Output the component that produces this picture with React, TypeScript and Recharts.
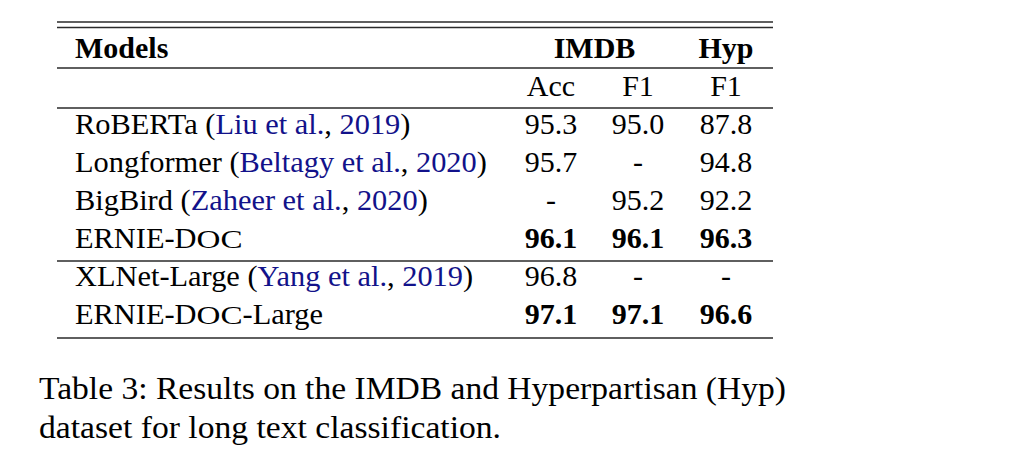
import React from "react";
import { ScatterChart, Scatter, XAxis, YAxis, ReferenceLine, Customized } from "recharts";

// table content
const MODELS = ["RoBERTa", "Longformer", "BigBird", "ERNIE-Doc", "XLNet-Large", "ERNIE-Doc-Large"];
const CITE_AUTHORS = ["Liu et al.", "Beltagy et al.", "Zaheer et al.", null, "Yang et al.", null];
const CITE_YEARS = ["2019", "2020", "2020", null, "2019", null];
const IMDB_ACC = [95.3, 95.7, null, 96.1, 96.8, 97.1];
const IMDB_F1 = [95.0, null, 95.2, 96.1, null, 97.1];
const HYP_F1 = [87.8, 94.8, 92.2, 96.3, null, 96.6];
const BOLD_MODELS = ["ERNIE-Doc", "ERNIE-Doc-Large"];
const TOP_HEADERS = ["Models", "IMDB", "Hyp"];
const SUB_HEADERS = ["Acc", "F1", "F1"];
const CAPTION_LINES = [
  "Table 3: Results on the IMDB and Hyperpartisan (Hyp)",
  "dataset for long text classification.",
];

// layout
const W = 1012;
const H = 456;
const TABLE_LEFT = 57;
const TABLE_RIGHT = 773;
const ROW_PITCH = 38.1;
const FIRST_BASELINE = 57.5;
const COL_X = { model: 75, acc: 551, imdbF1: 638, hyp: 726, imdb: 594.5 };
const RULES_PX = [22, 27.5, 68, 108, 261, 338];
const FONT = "'Liberation Serif', 'Times New Roman', serif";
const FS = 30;
const NAME_FS = 30.4;
const CITE = "#12128a";

const toSlot = (px: number) => (px - FIRST_BASELINE) / ROW_PITCH;
const fmt = (v: number | null) => (v == null ? "-" : v.toFixed(1));

const topHeaderData = TOP_HEADERS.map((t, i) => ({
  x: [COL_X.model, COL_X.imdb, COL_X.hyp][i],
  y: 0,
  text: t,
  left: i === 0,
}));
const subHeaderData = SUB_HEADERS.map((t, i) => ({
  x: [COL_X.acc, COL_X.imdbF1, COL_X.hyp][i],
  y: 1,
  text: t,
}));
const modelData = MODELS.map((m, i) => ({
  x: COL_X.model,
  y: i + 2,
  name: m,
  author: CITE_AUTHORS[i],
  year: CITE_YEARS[i],
}));
const valueData = (vals: (number | null)[], x: number) =>
  vals.map((v, i) => ({ x, y: i + 2, text: fmt(v), bold: BOLD_MODELS.includes(MODELS[i]) }));

const HeaderShape = (props: any) => {
  const { cx, cy, payload } = props;
  return (
    <text x={cx} y={cy} textAnchor={payload.left ? "start" : "middle"} fontFamily={FONT} fontSize={FS} fontWeight="bold" fill="#000">
      {payload.text}
    </text>
  );
};

const CenterShape = (props: any) => {
  const { cx, cy, payload } = props;
  return (
    <text x={cx} y={cy} textAnchor="middle" fontFamily={FONT} fontSize={FS} fontWeight={payload.bold ? "bold" : "normal"} fill="#000">
      {payload.text}
    </text>
  );
};

// "Doc" is set in small caps (wide small-cap glyphs)
const renderName = (name: string) => {
  const idx = name.indexOf("Doc");
  if (idx < 0) return <tspan>{name}</tspan>;
  return (
    <>
      <tspan>{name.slice(0, idx + 1)}</tspan>
      <tspan fontSize={24.5} textLength={46} lengthAdjust="spacingAndGlyphs">OC</tspan>
      <tspan fontSize={NAME_FS}>{name.slice(idx + 3)}</tspan>
    </>
  );
};

const ModelShape = (props: any) => {
  const { cx, cy, payload } = props;
  return (
    <text x={cx} y={cy} textAnchor="start" fontFamily={FONT} fontSize={NAME_FS} fill="#000">
      {renderName(payload.name)}
      {payload.author && (
        <>
          <tspan> (</tspan>
          <tspan fill={CITE}>{payload.author}</tspan>
          <tspan>, </tspan>
          <tspan fill={CITE}>{payload.year}</tspan>
          <tspan>)</tspan>
        </>
      )}
    </text>
  );
};

const Caption = () => (
  <g>
    <text x={39} y={399} fontFamily={FONT} fontSize={32.5} fill="#000" textLength={747} lengthAdjust="spacingAndGlyphs">
      {CAPTION_LINES[0]}
    </text>
    <text x={39} y={438} fontFamily={FONT} fontSize={32.5} fill="#000" textLength={462} lengthAdjust="spacingAndGlyphs">
      {CAPTION_LINES[1]}
    </text>
  </g>
);

export default function App() {
  return (
    <div style={{ position: "absolute", left: 0, top: 0, width: W, height: H, background: "#fff" }}>
      <style>{"body{margin:0}"}</style>
      <ScatterChart
        width={W}
        height={H}
        margin={{ top: 0, right: W - TABLE_RIGHT, bottom: 0, left: TABLE_LEFT }}
      >
        <XAxis type="number" dataKey="x" domain={[TABLE_LEFT, TABLE_RIGHT]} allowDataOverflow hide />
        <YAxis
          type="number"
          dataKey="y"
          domain={[-FIRST_BASELINE / ROW_PITCH, (H - FIRST_BASELINE) / ROW_PITCH]}
          allowDataOverflow
          reversed
          hide
        />
        {RULES_PX.map((p) => (
          <ReferenceLine key={p} y={toSlot(p)} stroke="#2a2a2a" strokeWidth={1.3} />
        ))}
        <Scatter data={topHeaderData} shape={HeaderShape} isAnimationActive={false} />
        <Scatter data={subHeaderData} shape={CenterShape} isAnimationActive={false} />
        <Scatter data={modelData} shape={ModelShape} isAnimationActive={false} />
        <Scatter data={valueData(IMDB_ACC, COL_X.acc)} shape={CenterShape} isAnimationActive={false} />
        <Scatter data={valueData(IMDB_F1, COL_X.imdbF1)} shape={CenterShape} isAnimationActive={false} />
        <Scatter data={valueData(HYP_F1, COL_X.hyp)} shape={CenterShape} isAnimationActive={false} />
        <Customized component={Caption} />
      </ScatterChart>
    </div>
  );
}
